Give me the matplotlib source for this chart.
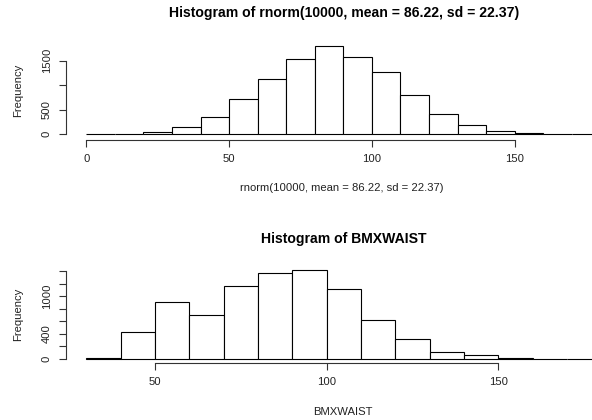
import matplotlib
matplotlib.use('Agg')
import matplotlib.pyplot as plt

plt.rcParams['font.family'] = ['Liberation Sans', 'DejaVu Sans']

# 直方图数据 (bin 左边界, 宽度 10)
rnorm_breaks = [0, 10, 20, 30, 40, 50, 60, 70, 80, 90, 100, 110, 120, 130, 140, 150, 160, 170, 180, 190]
rnorm_counts = [0, 0, 35, 137, 340, 714, 1122, 1537, 1805, 1585, 1265, 796, 401, 184, 61, 14, 2, 0, 0, 0]

waist_breaks = [30, 40, 50, 60, 70, 80, 90, 100, 110, 120, 130, 140, 150, 160, 170, 180]
waist_counts = [10, 425, 903, 696, 1158, 1365, 1413, 1110, 627, 324, 117, 64, 10, 5, 3, 1]

top_xticks = [0, 50, 100, 150]
top_yticks = [0, 500, 1000, 1500]
top_ylabels = ['0', '500', '', '1500']
bot_xticks = [50, 100, 150]
bot_yticks = [0, 200, 400, 600, 800, 1000, 1200, 1400]
bot_ylabels = ['0', '', '400', '', '', '1000', '', '']

W, H = 592, 420
fig = plt.figure(figsize=(W / 100, H / 100), dpi=100)


def box(l, t, r, b):
    return [l / W, 1 - b / H, (r - l) / W, (b - t) / H]


def ftext(x, y, s, **kw):
    fig.text(x / W, 1 - y / H, s, ha='center', va='center', **kw)


def r_hist(ax, breaks, counts, xlim, ylim, xticks, yticks, ylabels):
    ax.bar(breaks, counts, width=10, align='edge', facecolor='white',
           edgecolor='black', linewidth=0.8)
    ax.set_xlim(*xlim)
    ax.set_ylim(*ylim)
    for s in ['top', 'right']:
        ax.spines[s].set_visible(False)
    for s in ['left', 'bottom']:
        ax.spines[s].set_linewidth(0.8)
        ax.spines[s].set_color('#333333')
    ax.spines['bottom'].set_bounds(xticks[0], xticks[-1])
    ax.spines['left'].set_bounds(yticks[0], yticks[-1])
    ax.set_xticks(xticks)
    ax.set_yticks(yticks)
    ax.set_yticklabels(ylabels, rotation=90, va='center')
    ax.tick_params(direction='out', length=5, width=0.8, color='#333333',
                   labelsize=8.1, labelcolor='#222222', pad=5)
    ax.patch.set_visible(False)


ax1 = fig.add_axes(box(65.7, 40, 621, 140))
r_hist(ax1, rnorm_breaks, rnorm_counts, (-7.2, 187.2), (-122.8, 1923),
       top_xticks, top_yticks, top_ylabels)

ax2 = fig.add_axes(box(65.7, 265, 620, 363.3))
r_hist(ax2, waist_breaks, waist_counts, (24.0, 185.45), (-68.5, 1498),
       bot_xticks, bot_yticks, bot_ylabels)

ftext(344, 13, 'Histogram of rnorm(10000, mean = 86.22, sd = 22.37)',
      fontsize=10.1, fontweight='bold')
ftext(342, 188, 'rnorm(10000, mean = 86.22, sd = 22.37)', fontsize=8.1, color='#222222')
ftext(18, 90, 'Frequency', fontsize=8.1, rotation=90, color='#222222')

ftext(344, 239, 'Histogram of BMXWAIST', fontsize=10.1, fontweight='bold')
ftext(343, 412, 'BMXWAIST', fontsize=8.1, color='#222222')
ftext(18, 314, 'Frequency', fontsize=8.1, rotation=90, color='#222222')

plt.savefig('out.png', dpi=100)
